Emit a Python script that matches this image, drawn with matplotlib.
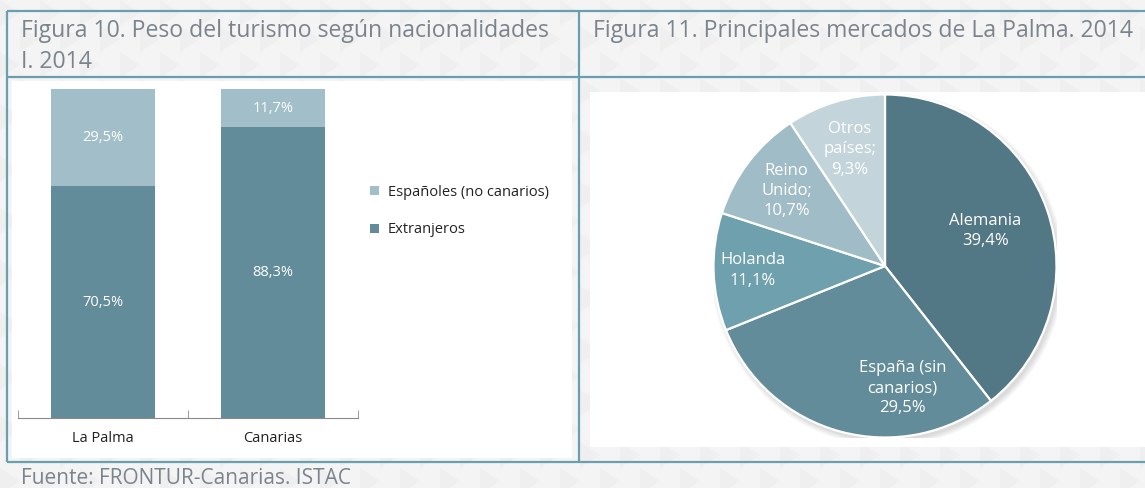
import matplotlib
matplotlib.use('Agg')
import matplotlib.pyplot as plt
from matplotlib.patches import Rectangle, Circle, Polygon
import numpy as np

plt.rcParams['font.family'] = ['Open Sans', 'DejaVu Sans']

# figura 10: peso del turismo segun nacionalidad
categorias = ['La Palma', 'Canarias']
espanoles = [29.5, 11.7]
extranjeros = [70.5, 88.3]
series = ['Españoles (no canarios)', 'Extranjeros']

# figura 11: principales mercados
mercados = ['Alemania', 'España (sin\ncanarios)', 'Holanda', 'Reino\nUnido;', 'Otros\npaíses;']
cuotas = [39.4, 29.5, 11.1, 10.7, 9.3]

titulo_10 = ['Figura 10. Peso del turismo según nacionalidades', 'I. 2014']
titulo_11 = 'Figura 11. Principales mercados de La Palma. 2014'
fuente = 'Fuente: FRONTUR-Canarias. ISTAC'

W, H = 1145, 488
C_LINEA = '#6a9fb0'
C_TXT = '#7b848d'
C_CLARO = '#a2bfc9'
C_OSCURO = '#628c99'
colores_pie = ['#527785', '#628c99', '#6fa0ae', '#a0bcc6', '#c3d4db']


def pct(v):
    return f'{v:.1f}'.replace('.', ',') + '%'


def px_axes(fig, x0, y0, x1, y1):
    # rectangulo en pixeles, origen arriba a la izquierda
    return fig.add_axes([x0 / W, 1 - y1 / H, (x1 - x0) / W, (y1 - y0) / H])


fig = plt.figure(figsize=(W / 100, H / 100), dpi=100)
fig.patch.set_facecolor('#f4f4f4')

# marco de fondo
bg = fig.add_axes([0, 0, 1, 1])
bg.set_xlim(0, W)
bg.set_ylim(H, 0)
bg.axis('off')

# textura suave de triangulos
paso, alto = 40, 26
for fila in range(H // alto + 2):
    y0 = fila * alto
    desp = (fila % 2) * paso / 2
    for col in range(-1, W // paso + 2):
        x0 = col * paso + desp
        bg.add_patch(Polygon([(x0, y0), (x0 + paso / 2, y0 + alto / 2), (x0, y0 + alto)],
                             closed=True, fc='#ebebeb', ec='none', alpha=0.45))

bg.add_patch(Rectangle((12, 81), 560, 377, fc='white', ec='none'))
bg.add_patch(Rectangle((590, 92), 560, 355, fc='white', ec='none'))
for y in (11, 76.5, 462):
    bg.plot([7, W], [y, y], color=C_LINEA, lw=1.6, solid_capstyle='butt')
for x in (7, 579):
    bg.plot([x, x], [11, 462], color=C_LINEA, lw=1.6, solid_capstyle='butt')

bg.text(21, 31, titulo_10[0], fontsize=16.6, color=C_TXT, va='center', ha='left')
bg.text(21, 62, titulo_10[1], fontsize=16.6, color=C_TXT, va='center', ha='left')
bg.text(593, 31, titulo_11, fontsize=16.6, color=C_TXT, va='center', ha='left')
bg.text(21, 479, fuente, fontsize=15, color=C_TXT, va='center', ha='left')

# ---- figura 10: barras apiladas
ax = px_axes(fig, 18, 89, 358, 418)
ax.set_facecolor('none')
x = np.arange(len(categorias))
b_ext = ax.bar(x, extranjeros, width=0.61, color=C_OSCURO)
b_esp = ax.bar(x, espanoles, width=0.61, bottom=extranjeros, color=C_CLARO)
for i in x:
    ax.text(i, extranjeros[i] / 2, pct(extranjeros[i]), color='white',
            fontsize=10.5, ha='center', va='center')
    ax.text(i, extranjeros[i] + espanoles[i] / 2, pct(espanoles[i]), color='white',
            fontsize=10.5, ha='center', va='center')
ax.set_xlim(-0.5, 1.5)
ax.set_ylim(0, 100)
for s in ('left', 'top', 'right'):
    ax.spines[s].set_visible(False)
ax.spines['bottom'].set_color('#8a8a8a')
ax.set_yticks([])
ax.set_xticks(x)
ax.set_xticklabels(categorias, fontsize=10.5, color='#222222')
ax.tick_params(axis='x', which='major', length=0, pad=9)
ax.set_xticks([-0.5, 0.5, 1.5], minor=True)
ax.tick_params(axis='x', which='minor', direction='in', length=6, color='#8a8a8a')

fig.legend([b_esp, b_ext], series, loc='center left',
           bbox_to_anchor=(357 / W, 1 - 211 / H), frameon=False,
           handlelength=0.6, handleheight=0.6, handletextpad=0.6,
           labelspacing=1.55, fontsize=10.5, labelcolor='#222222')

# ---- figura 11: tarta
cx, cy, r = 885, 266, 171.5
axp = px_axes(fig, cx - r, cy - r, cx + r, cy + r)
axp.set_xlim(-1, 1)
axp.set_ylim(-1, 1)
axp.set_aspect('equal')
axp.axis('off')
for k in range(6):
    axp.add_patch(Circle((0.015, -0.02), 1.0 + 0.006 * k, fc='black', alpha=0.025, ec='none'))
wedges, _ = axp.pie(cuotas, colors=colores_pie, startangle=90, counterclock=False,
                    radius=1.0, wedgeprops=dict(edgecolor='white', linewidth=1.6))
axp.set_xlim(-1, 1)
axp.set_ylim(-1, 1)

r_lab = [0.62, 0.72, 0.77, 0.72, 0.71]
desvio = [0, 23, 0, 0, 0]
for i, w in enumerate(wedges):
    ang = np.deg2rad((w.theta1 + w.theta2) / 2 + desvio[i])
    axp.text(r_lab[i] * np.cos(ang), r_lab[i] * np.sin(ang),
             mercados[i] + '\n' + pct(cuotas[i]), color='white', fontsize=12,
             ha='center', va='center', linespacing=1.35)

fig.savefig('out.png', dpi=100, facecolor=fig.get_facecolor())
